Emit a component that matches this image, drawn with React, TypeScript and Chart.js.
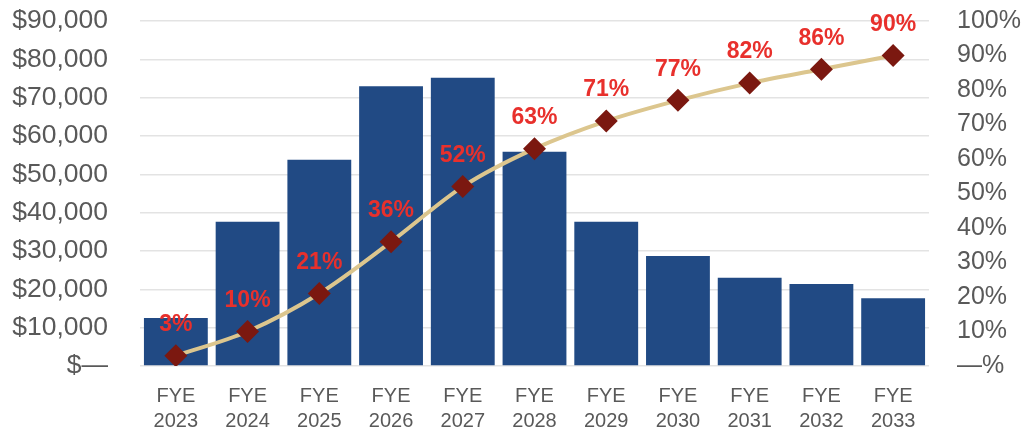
import React, { useEffect, useRef } from "react";
import { Chart, registerables } from "chart.js";

Chart.register(...registerables);

const categories: string[][] = [
  ["FYE", "2023"], ["FYE", "2024"], ["FYE", "2025"], ["FYE", "2026"], ["FYE", "2027"],
  ["FYE", "2028"], ["FYE", "2029"], ["FYE", "2030"], ["FYE", "2031"], ["FYE", "2032"], ["FYE", "2033"],
];
const barValues: number[] = [12500, 37600, 53800, 73000, 75200, 55900, 37600, 28700, 23000, 21400, 17700];
const cumulativePct: number[] = [3, 10, 21, 36, 52, 63, 71, 77, 82, 86, 90];
const leftTicks: number[] = [0, 10000, 20000, 30000, 40000, 50000, 60000, 70000, 80000, 90000];
const rightTicks: number[] = [0, 10, 20, 30, 40, 50, 60, 70, 80, 90, 100];

const FONT = "'Liberation Sans', Arial, sans-serif";

const labelPlugin = {
  id: "pctLabels",
  afterDatasetsDraw(chart: any) {
    const meta = chart.getDatasetMeta(1);
    const ctx = chart.ctx;
    ctx.save();
    ctx.font = `bold 23px ${FONT}`;
    ctx.fillStyle = "#e8302c";
    ctx.textAlign = "center";
    ctx.textBaseline = "middle";
    meta.data.forEach((pt: any, i: number) => {
      ctx.fillText(`${cumulativePct[i]}%`, pt.x, pt.y - 31);
    });
    ctx.restore();
  },
};

export default function App() {
  const ref = useRef<HTMLCanvasElement | null>(null);
  useEffect(() => {
    if (!ref.current) return;
    const chart = new Chart(ref.current, {
      type: "bar",
      data: {
        labels: categories,
        datasets: [
          {
            type: "bar",
            data: barValues,
            backgroundColor: "#214a84",
            barPercentage: 0.89,
            categoryPercentage: 1,
            yAxisID: "y",
            order: 2,
          },
          {
            type: "line",
            data: cumulativePct,
            borderColor: "#dcc68e",
            borderWidth: 4,
            cubicInterpolationMode: "monotone",
            pointStyle: "rectRot",
            pointRadius: 11.5,
            pointBackgroundColor: "#7b1810",
            pointBorderColor: "#7b1810",
            pointBorderWidth: 0,
            yAxisID: "y1",
            order: 1,
          } as any,
        ],
      },
      options: {
        animation: false,
        responsive: true,
        maintainAspectRatio: false,
        layout: { padding: { top: 0, bottom: 0, left: 0, right: 0 } },
        plugins: { legend: { display: false }, tooltip: { enabled: false } },
        scales: {
          x: {
            grid: { display: false, drawTicks: false },
            border: { display: false },
            ticks: {
              color: "#595959",
              font: { family: FONT, size: 20, lineHeight: 1.25 },
              padding: 18,
              maxRotation: 0,
              autoSkip: false,
            },
            afterFit(scale: any) {
              scale.height = 67;
            },
          },
          y: {
            position: "left",
            min: 0,
            max: 90000,
            afterBuildTicks(scale: any) {
              scale.ticks = leftTicks.map((v) => ({ value: v }));
            },
            grid: { color: "#e3e3e3", lineWidth: 1.5, drawTicks: false },
            border: { display: false },
            ticks: {
              color: "#595959",
              font: { family: FONT, size: 26.5 },
              padding: 32,
              autoSkip: false,
              callback: (v: any) => (v === 0 ? "$—" : "$" + Number(v).toLocaleString("en-US")),
            },
            afterFit(scale: any) {
              scale.width = 140;
              scale.paddingTop = 21;
              scale.paddingBottom = 0;
            },
          },
          y1: {
            position: "right",
            min: 0,
            max: 100,
            afterBuildTicks(scale: any) {
              scale.ticks = rightTicks.map((v) => ({ value: v }));
            },
            grid: { display: false, drawTicks: false },
            border: { display: false },
            ticks: {
              color: "#595959",
              font: { family: FONT, size: 25 },
              padding: 28,
              autoSkip: false,
              callback: (v: any) => (v === 0 ? "—%" : v + "%"),
            },
            afterFit(scale: any) {
              scale.width = 98;
              scale.paddingTop = 21;
              scale.paddingBottom = 0;
            },
          },
        },
      },
      plugins: [labelPlugin],
    } as any);
    return () => chart.destroy();
  }, []);
  return (
    <div style={{ position: "absolute", left: 0, top: 0, width: 1027, height: 433, background: "#fff" }}>
      <canvas ref={ref} />
    </div>
  );
}
